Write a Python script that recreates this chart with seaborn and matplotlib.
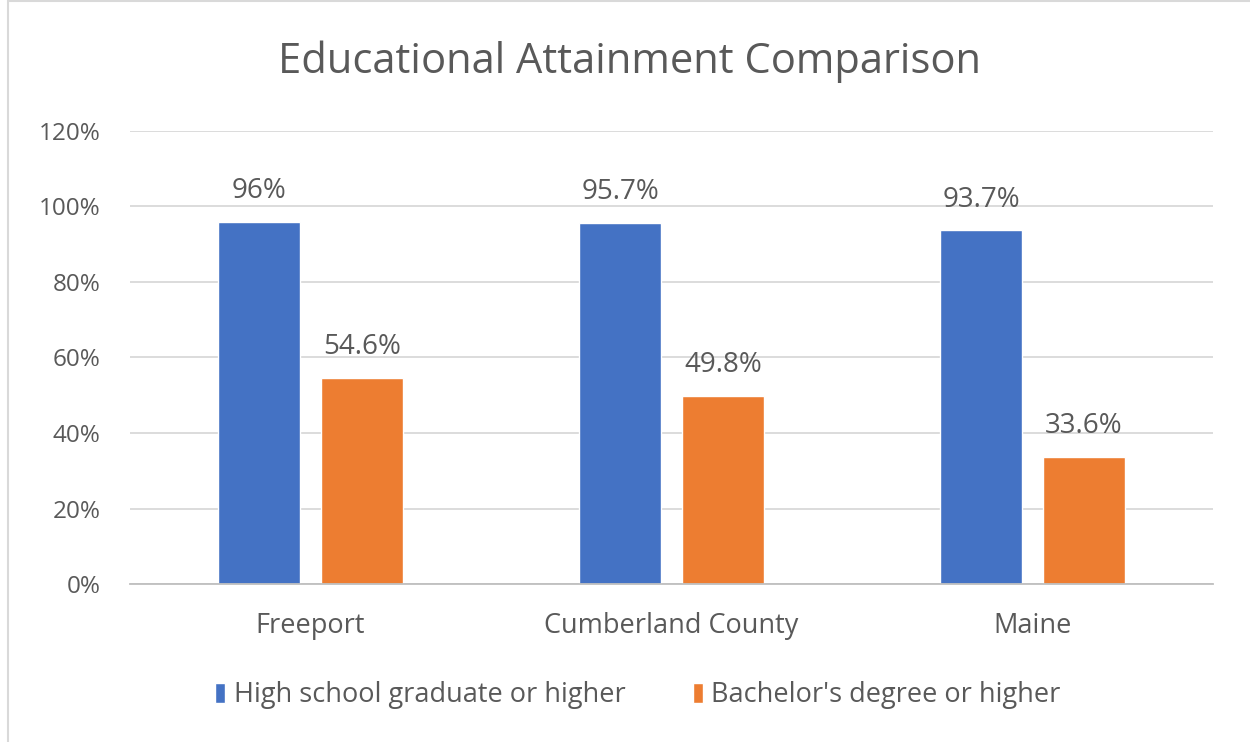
import matplotlib
matplotlib.use("Agg")
import matplotlib.pyplot as plt
import seaborn as sns
import pandas as pd
from matplotlib.patches import Rectangle
from matplotlib.ticker import PercentFormatter

# data
places = ["Freeport", "Cumberland County", "Maine"]
high_school = [96.0, 95.7, 93.7]
bachelor = [54.6, 49.8, 33.6]
hs_labels = ["96%", "95.7%", "93.7%"]
ba_labels = ["54.6%", "49.8%", "33.6%"]
series = ["High school graduate or higher", "Bachelor's degree or higher"]

df = pd.DataFrame({
    "place": places * 2,
    "value": high_school + bachelor,
    "series": [series[0]] * 3 + [series[1]] * 3,
})

sns.set_theme(style="white")
plt.rcParams["font.family"] = ["Open Sans", "DejaVu Sans"]
txt = "#595959"

fig = plt.figure(figsize=(12.5, 7.42), dpi=100)
ax = fig.add_axes([130 / 1250, 1 - 584 / 742, 1083 / 1250, 453 / 742])

sns.barplot(data=df, x="place", y="value", hue="series",
            palette=["#4472C4", "#ED7D31"], width=0.57, gap=0.21,
            saturation=1, ax=ax)

for cont, labs in zip(ax.containers, [hs_labels, ba_labels]):
    ax.bar_label(cont, labels=labs, padding=12, fontsize=20, color=txt)

ax.set_ylim(0, 120)
ax.set_xlim(-0.5, 2.5)
ax.set_yticks(range(0, 121, 20))
ax.yaxis.set_major_formatter(PercentFormatter(decimals=0))
ax.grid(axis="y", color="#d9d9d9", linewidth=1.3)
ax.set_axisbelow(True)
for s in ["top", "right", "left"]:
    ax.spines[s].set_visible(False)
ax.spines["bottom"].set_color("#bfbfbf")
ax.spines["bottom"].set_linewidth(1.3)
ax.tick_params(axis="y", length=0, labelsize=17.5, labelcolor=txt, pad=21)
ax.tick_params(axis="x", length=0, labelsize=19.5, labelcolor=txt, pad=20)
ax.set_xlabel("")
ax.set_ylabel("")

ax.legend(loc="center", bbox_to_anchor=(0.469, -0.246), ncol=2, frameon=False,
          fontsize=19.5, labelcolor=txt, handlelength=0.37, handleheight=0.72,
          handletextpad=0.3, columnspacing=2.5)

fig.text(0.504, 1 - 62 / 742, "Educational Attainment Comparison",
         ha="center", va="center", fontsize=30, color=txt)

# thin chart border like the source
fig.patches.append(Rectangle((8 / 1250, -0.01), 1.1, 1 - 1 / 742 + 0.01,
                             transform=fig.transFigure, fill=False,
                             edgecolor="#d9d9d9", linewidth=1.5))

fig.savefig("out.png", dpi=100)
